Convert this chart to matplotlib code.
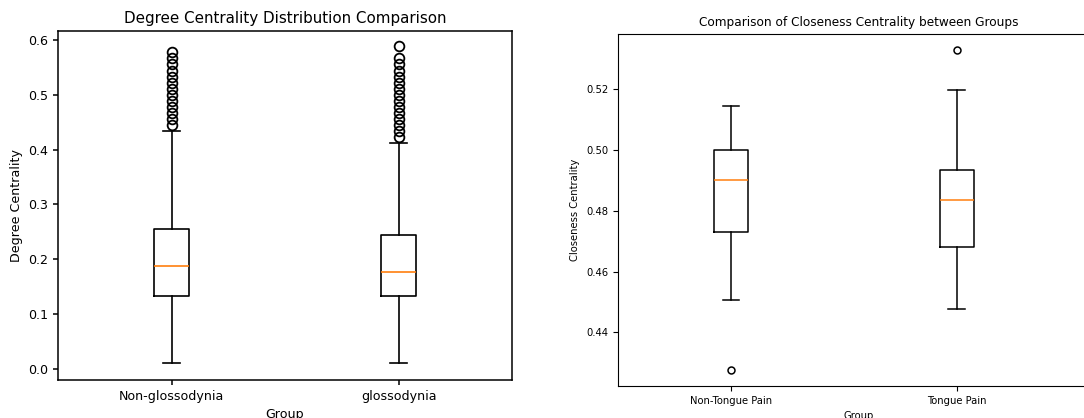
import matplotlib
matplotlib.use("Agg")
import matplotlib.pyplot as plt

# Left panel: degree centrality (five-number summaries)
deg_groups = ["Non-glossodynia", "glossodynia"]
deg_whislo = [0.0105, 0.0105]
deg_q1 = [0.1325, 0.1325]
deg_med = [0.188, 0.177]
deg_q3 = [0.255, 0.2445]
deg_whishi = [0.433, 0.411]
deg_fliers = [
    [0.444, 0.456, 0.467, 0.478, 0.489, 0.500, 0.511, 0.522, 0.533, 0.544,
     0.556, 0.567, 0.578],
    [0.422, 0.433, 0.444, 0.456, 0.467, 0.478, 0.489, 0.500, 0.511, 0.522,
     0.533, 0.544, 0.556, 0.567, 0.589],
]

# Right panel: closeness centrality
clo_groups = ["Non-Tongue Pain", "Tongue Pain"]
clo_whislo = [0.4505, 0.4476]
clo_q1 = [0.4731, 0.4681]
clo_med = [0.4900, 0.4834]
clo_q3 = [0.4998, 0.4934]
clo_whishi = [0.5145, 0.5196]
clo_fliers = [[0.4278], [0.5326]]


def make_stats(labels, lo, q1, med, q3, hi, fliers):
    stats = []
    for i, lab in enumerate(labels):
        stats.append({"label": lab, "whislo": lo[i], "q1": q1[i], "med": med[i],
                      "q3": q3[i], "whishi": hi[i], "fliers": fliers[i]})
    return stats


def line_props(lw):
    return dict(boxprops=dict(linewidth=lw), whiskerprops=dict(linewidth=lw),
                capprops=dict(linewidth=lw), medianprops=dict(linewidth=lw, color="#ff7f0e"))


fig = plt.figure(figsize=(10.84, 4.18), dpi=100)

# left chart
ax1 = fig.add_axes([58 / 1084, 38 / 418, 454 / 1084, 349 / 418])
ax1.bxp(make_stats(deg_groups, deg_whislo, deg_q1, deg_med, deg_q3, deg_whishi, deg_fliers),
        flierprops=dict(marker="o", markersize=7, markerfacecolor="none",
                        markeredgecolor="black", markeredgewidth=1.3),
        **line_props(1.2))
ax1.set_ylim(-0.02, 0.616)
ax1.set_title("Degree Centrality Distribution Comparison", fontsize=10.9, pad=6)
ax1.set_xlabel("Group", fontsize=9.1)
ax1.set_ylabel("Degree Centrality", fontsize=9.1)
ax1.tick_params(labelsize=9.1, width=1.1)
for s in ax1.spines.values():
    s.set_linewidth(1.1)

# right chart (runs off the right edge in the original)
ax2 = fig.add_axes([618 / 1084, 32 / 418, 482 / 1084, 352 / 418])
ax2.bxp(make_stats(clo_groups, clo_whislo, clo_q1, clo_med, clo_q3, clo_whishi, clo_fliers),
        flierprops=dict(marker="o", markersize=5, markerfacecolor="none",
                        markeredgecolor="black", markeredgewidth=1.1),
        **line_props(1.1))
ax2.set_xlim(0.5, 2.633)
ax2.set_ylim(0.4224, 0.538)
ax2.set_yticks([0.44, 0.46, 0.48, 0.50, 0.52])
ax2.set_title("Comparison of Closeness Centrality between Groups", fontsize=8.7, pad=6)
ax2.set_xlabel("Group", fontsize=7.2)
ax2.set_ylabel("Closeness Centrality", fontsize=7.2)
ax2.tick_params(labelsize=7.2)

fig.savefig("out.png", dpi=100)
